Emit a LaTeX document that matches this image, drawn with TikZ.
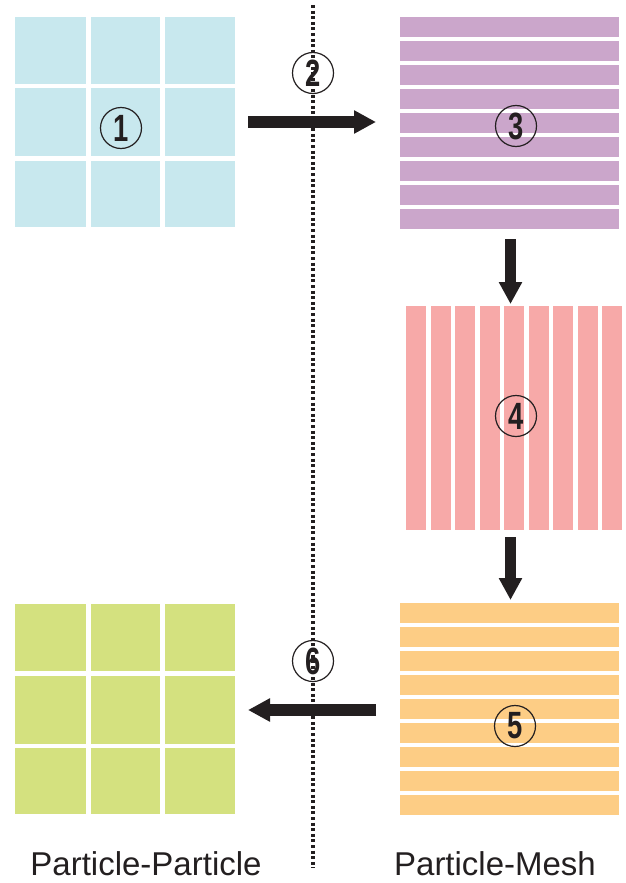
\documentclass[tikz,border=0pt]{standalone}
\usepackage{fontspec}
\setmainfont{Liberation Sans}
\usetikzlibrary{arrows.meta}
\definecolor{cblue}{HTML}{C8E8EE}
\definecolor{cpurple}{HTML}{CBA6CB}
\definecolor{cpink}{HTML}{F7A9A8}
\definecolor{corange}{HTML}{FDCD85}
\definecolor{cgreen}{HTML}{D4E17F}
\definecolor{cink}{HTML}{231F20}
\tikzset{
  bigarrow/.style={draw=cink, line width=11.5pt, line cap=butt,
    -{Triangle[length=22pt,width=22pt]}},
  numcircle/.style={circle, draw=cink, line width=1.2pt, minimum size=41pt,
    inner sep=0pt, text=cink, font=\bfseries\fontsize{38}{38}\selectfont},
  label/.style={text=cink, font=\fontsize{33}{33}\selectfont, anchor=base, inner sep=0pt},
  divider/.style={draw=cink, line width=3.5pt, dash pattern=on 3pt off 2.6pt}
}
\newcommand{\numtxt}[1]{\scalebox{0.72}[1]{#1}}
\begin{document}
\begin{tikzpicture}[x=1pt,y=-1pt]
\useasboundingbox (0,0) rectangle (626,883);
% blue grid (1)
\foreach \xa/\xb in {15/86,91/160,165/235}{
  \foreach \ya/\yb in {17/84,88/156,161/227}{
    \fill[cblue] (\xa,\ya) rectangle (\xb,\yb);
  }}
% green grid (6)
\foreach \xa/\xb in {15/86,91/160,165/235}{
  \foreach \ya/\yb in {604/671,676/744,748/814}{
    \fill[cgreen] (\xa,\ya) rectangle (\xb,\yb);
  }}
% purple stripes (3)
\foreach \k in {0,...,8}{
  \fill[cpurple] (400,17+24*\k) rectangle (619,37+24*\k);
}
% pink stripes (4)
\foreach \k in {0,...,8}{
  \fill[cpink] (406+24.5*\k,306) rectangle (426+24.5*\k,530);
}
% orange stripes (5)
\foreach \k in {0,...,8}{
  \fill[corange] (400,603+24*\k) rectangle (619,623+24*\k);
}
% circled numbers
\node[numcircle] (n1) at (121,128) {\numtxt{1}};
\node[numcircle] (n2) at (313,73) {\numtxt{2}};
\node[numcircle] (n3) at (516,126) {\numtxt{3}};
\node[numcircle] (n4) at (516,416) {\numtxt{4}};
\node[numcircle] (n5) at (515,726) {\numtxt{5}};
\node[numcircle] (n6) at (313,661) {\numtxt{6}};
% arrow end points
\coordinate (a1s) at (248,122);
\coordinate (a1e) at (376,122);
\coordinate (a2s) at (510.5,239);
\coordinate (a2e) at (510.5,304);
\coordinate (a3s) at (510.5,537);
\coordinate (a3e) at (510.5,600);
\coordinate (a4s) at (376,710);
\coordinate (a4e) at (248,710);
\draw[bigarrow] (a1s) -- (a1e);
\draw[bigarrow] (a2s) -- (a2e);
\draw[bigarrow] (a3s) -- (a3e);
\draw[bigarrow] (a4s) -- (a4e);
% divider
\coordinate (dtop) at (313,5);
\coordinate (dbot) at (313,868);
\draw[divider] (dtop) -- (dbot);
% labels
\node[label] (lpp) at (146,875) {Particle-Particle};
\node[label] (lpm) at (495,875) {Particle-Mesh};
\end{tikzpicture}
\end{document}
